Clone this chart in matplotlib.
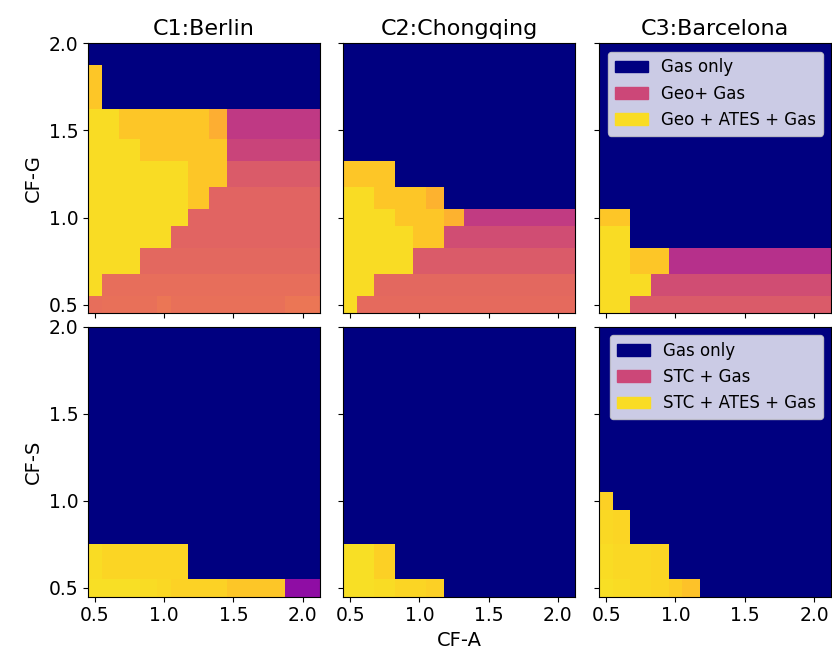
import matplotlib
matplotlib.use('Agg')
import matplotlib.pyplot as plt
import numpy as np
from matplotlib.patches import Patch

N = np.nan

# grid of the sweeps
cf_a = [0.5, 0.6, 0.75, 0.9, 1.0, 1.1, 1.25, 1.4, 1.5, 1.75, 2.0]
cf_g = [0.5, 0.6, 0.75, 0.9, 1.0, 1.1, 1.25, 1.4, 1.5, 1.75, 2.0]
cf_s = [0.5, 0.6, 0.9, 1.0, 1.1, 1.25, 1.4, 1.5, 1.75, 2.0]

cities = ['C1:Berlin', 'C2:Chongqing', 'C3:Barcelona']

# colour value (plasma scale) per cell, rows = CF-G ascending, NaN = gas only
geo_berlin = [
    [0.63, 0.64, 0.64, 0.64, 0.66, 0.64, 0.64, 0.64, 0.64, 0.64, 0.66],
    [0.93, 0.63, 0.63, 0.63, 0.63, 0.63, 0.63, 0.63, 0.63, 0.63, 0.63],
    [0.93, 0.93, 0.93, 0.61, 0.61, 0.61, 0.61, 0.61, 0.61, 0.61, 0.61],
    [0.93, 0.93, 0.93, 0.93, 0.93, 0.60, 0.60, 0.60, 0.60, 0.60, 0.60],
    [0.93, 0.93, 0.93, 0.93, 0.93, 0.93, 0.60, 0.60, 0.60, 0.60, 0.60],
    [0.93, 0.93, 0.93, 0.93, 0.93, 0.93, 0.88, 0.60, 0.60, 0.60, 0.60],
    [0.93, 0.93, 0.93, 0.93, 0.93, 0.93, 0.88, 0.88, 0.57, 0.57, 0.57],
    [0.93, 0.93, 0.93, 0.88, 0.88, 0.88, 0.88, 0.88, 0.49, 0.49, 0.49],
    [0.93, 0.93, 0.88, 0.88, 0.88, 0.88, 0.88, 0.82, 0.45, 0.45, 0.45],
    [0.88, N, N, N, N, N, N, N, N, N, N],
    [N, N, N, N, N, N, N, N, N, N, N],
]
geo_chongqing = [
    [0.93, 0.62, 0.62, 0.62, 0.62, 0.62, 0.62, 0.62, 0.62, 0.62, 0.62],
    [0.93, 0.93, 0.61, 0.61, 0.61, 0.61, 0.61, 0.61, 0.61, 0.61, 0.61],
    [0.93, 0.93, 0.93, 0.93, 0.57, 0.57, 0.57, 0.57, 0.57, 0.57, 0.57],
    [0.93, 0.93, 0.93, 0.93, 0.88, 0.88, 0.52, 0.52, 0.52, 0.52, 0.52],
    [0.93, 0.93, 0.93, 0.88, 0.88, 0.88, 0.83, 0.46, 0.46, 0.46, 0.46],
    [0.93, 0.93, 0.88, 0.88, 0.88, 0.83, N, N, N, N, N],
    [0.88, 0.88, 0.88, N, N, N, N, N, N, N, N],
    [N, N, N, N, N, N, N, N, N, N, N],
    [N, N, N, N, N, N, N, N, N, N, N],
    [N, N, N, N, N, N, N, N, N, N, N],
    [N, N, N, N, N, N, N, N, N, N, N],
]
geo_barcelona = [
    [0.93, 0.93, 0.57, 0.57, 0.57, 0.57, 0.57, 0.57, 0.57, 0.57, 0.57],
    [0.93, 0.93, 0.93, 0.52, 0.52, 0.52, 0.52, 0.52, 0.52, 0.52, 0.52],
    [0.93, 0.93, 0.88, 0.88, 0.42, 0.42, 0.42, 0.42, 0.42, 0.42, 0.42],
    [0.93, 0.93, N, N, N, N, N, N, N, N, N],
    [0.88, 0.88, N, N, N, N, N, N, N, N, N],
    [N, N, N, N, N, N, N, N, N, N, N],
    [N, N, N, N, N, N, N, N, N, N, N],
    [N, N, N, N, N, N, N, N, N, N, N],
    [N, N, N, N, N, N, N, N, N, N, N],
    [N, N, N, N, N, N, N, N, N, N, N],
    [N, N, N, N, N, N, N, N, N, N, N],
]

# rows = CF-S ascending
stc_berlin = [
    [0.94, 0.94, 0.94, 0.93, 0.925, 0.91, 0.91, 0.91, 0.88, 0.88, 0.30],
    [0.93, 0.915, 0.915, 0.915, 0.915, 0.915, N, N, N, N, N],
] + [[N] * 11 for _ in range(8)]
stc_chongqing = [
    [0.94, 0.94, 0.93, 0.915, 0.915, 0.905, N, N, N, N, N],
    [0.94, 0.94, 0.905, N, N, N, N, N, N, N, N],
] + [[N] * 11 for _ in range(8)]
stc_barcelona = [
    [0.94, 0.93, 0.925, 0.915, 0.895, 0.87, N, N, N, N, N],
    [0.93, 0.925, 0.925, 0.915, N, N, N, N, N, N, N],
    [0.925, 0.915, N, N, N, N, N, N, N, N, N],
    [0.905, N, N, N, N, N, N, N, N, N, N],
] + [[N] * 11 for _ in range(6)]

geo_data = [geo_berlin, geo_chongqing, geo_barcelona]
stc_data = [stc_berlin, stc_chongqing, stc_barcelona]

cmap = plt.get_cmap('plasma').copy()
cmap.set_bad('navy')

fig = plt.figure(figsize=(8.32, 6.6), dpi=100)
lefts = [0.1058, 0.4126, 0.7203]
w = 0.2788
h = 0.409
bottoms = [0.5253, 0.0959]

for r in range(2):
    for c in range(3):
        ax = fig.add_axes([lefts[c], bottoms[r], w, h])
        if r == 0:
            z = np.array(geo_data[c])
            ax.pcolormesh(cf_a, cf_g, np.ma.masked_invalid(z), cmap=cmap,
                          vmin=0, vmax=1, shading='nearest')
            ax.set_title(cities[c], fontsize=16)
        else:
            z = np.array(stc_data[c])
            ax.pcolormesh(cf_a, cf_s, np.ma.masked_invalid(z), cmap=cmap,
                          vmin=0, vmax=1, shading='nearest')
        ax.set_facecolor('navy')
        ax.set_xlim(0.45, 2.125)
        ax.set_ylim(0.45, 2.0)
        ax.set_xticks([0.5, 1.0, 1.5, 2.0])
        ax.set_yticks([0.5, 1.0, 1.5, 2.0])
        ax.tick_params(labelsize=13.5)
        if r == 0:
            ax.tick_params(labelbottom=False)
        if c > 0:
            ax.tick_params(labelleft=False)
        if c == 0:
            ax.set_ylabel('CF-G' if r == 0 else 'CF-S', fontsize=14)
        if r == 1 and c == 1:
            ax.set_xlabel('CF-A', fontsize=14)
        if c == 2:
            tech = 'Geo' if r == 0 else 'STC'
            labels = ['Gas only', 'Geo+ Gas' if r == 0 else 'STC + Gas',
                      tech + ' + ATES + Gas']
            handles = [Patch(color='navy'), Patch(color=cmap(0.5)),
                       Patch(color=cmap(0.93))]
            ax.legend(handles, labels, loc='upper right', fontsize=12)

plt.savefig('out.png', dpi=100)
